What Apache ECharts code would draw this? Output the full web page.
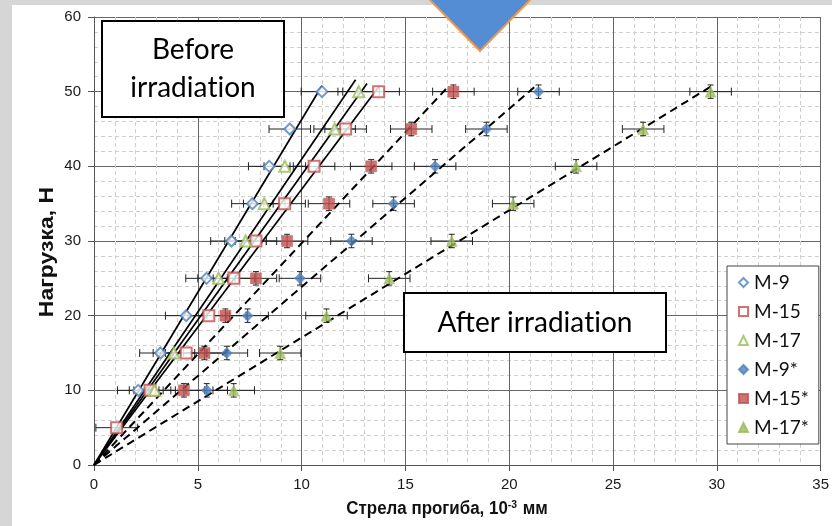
<!DOCTYPE html>
<html>
<head>
<meta charset="utf-8">
<script src="https://cdn.jsdelivr.net/npm/echarts@6/dist/echarts.min.js"></script>
<style>
  html, body { margin: 0; padding: 0; background: #ffffff; }
  #chart { width: 832px; height: 526px; }
</style>
</head>
<body>
<div id="chart"></div>
<script>
// Load levels, N
const loadsM9  = [10, 15, 20, 25, 30, 35, 40, 45, 50];
const loadsM15 = [5, 10, 15, 20, 25, 30, 35, 40, 45, 50];
const loadsM17 = [10, 15, 25, 30, 35, 40, 45, 50];
const loadsIrr = [10, 15, 20, 25, 30, 35, 40, 45, 50];

// Deflection, 10^-3 mm (before irradiation)
const defM9  = [2.13, 3.2, 4.44, 5.42, 6.62, 7.63, 8.44, 9.43, 10.98];
const defM15 = [1.09, 2.7, 4.44, 5.53, 6.74, 7.8, 9.18, 10.6, 12.12, 13.71];
const defM17 = [2.92, 3.85, 6.0, 7.3, 8.2, 9.19, 11.59, 12.75];

// Deflection, 10^-3 mm (after irradiation)
const defM9s  = [5.43, 6.4, 7.4, 9.92, 12.4, 14.43, 16.43, 18.9, 21.41];
const defM15s = [4.33, 5.32, 6.33, 7.8, 9.3, 11.32, 13.35, 15.28, 17.31];
const defM17s = [6.73, 8.97, 11.2, 14.22, 17.23, 20.19, 23.22, 26.45, 29.7];

// Measurement spread (deflection, load)
const errDefl = 1.0;
const errLoad = 0.9;

// Linear fits through the origin: end points [deflection, load]
const fitsBefore = [[10.98, 50.8], [12.6, 51.6], [13.15, 51.1], [13.73, 50.7]];
const fitsAfter  = [[17.07, 50.7], [21.38, 51.0], [29.78, 50.8]];

const xTicks = [0, 5, 10, 15, 20, 25, 30, 35];
const yTicks = [0, 10, 20, 30, 40, 50, 60];

const BLUE = '#4F81BD', RED = '#C0504D', GREEN = '#9BBB59';

const pairs = (xs, ys) => xs.map((x, i) => [x, ys[i]]);

const samples = [
  { name: 'M-9',   xs: defM9,   ys: loadsM9,  color: BLUE,  symbol: 'diamond',  size: 11, hollow: true,  ey: 0 },
  { name: 'M-15',  xs: defM15,  ys: loadsM15, color: RED,   symbol: 'rect',     size: 11, hollow: true,  ey: 0 },
  { name: 'M-17',  xs: defM17,  ys: loadsM17, color: GREEN, symbol: 'triangle', size: 11, hollow: true,  ey: 0 },
  { name: 'M-9*',  xs: defM9s,  ys: loadsIrr, color: BLUE,  symbol: 'diamond',  size: 11, hollow: false, ey: errLoad },
  { name: 'M-15*', xs: defM15s, ys: loadsIrr, color: RED,   symbol: 'rect',     size: 11, hollow: false, ey: errLoad },
  { name: 'M-17*', xs: defM17s, ys: loadsIrr, color: GREEN, symbol: 'triangle', size: 11, hollow: false, ey: errLoad }
];

function errorBarItem(params, api) {
  const x = api.value(0), y = api.value(1), ex = api.value(2), ey = api.value(3);
  const l = api.coord([x - ex, y]);
  const r = api.coord([x + ex, y]);
  const cap = 4;
  const style = { stroke: '#222', lineWidth: 1 };
  const children = [
    { type: 'line', shape: { x1: l[0], y1: l[1], x2: r[0], y2: r[1] }, style },
    { type: 'line', shape: { x1: l[0], y1: l[1] - cap, x2: l[0], y2: l[1] + cap }, style },
    { type: 'line', shape: { x1: r[0], y1: r[1] - cap, x2: r[0], y2: r[1] + cap }, style }
  ];
  if (ey > 0) {
    const t = api.coord([x, y + ey]);
    const b = api.coord([x, y - ey]);
    children.push(
      { type: 'line', shape: { x1: t[0], y1: t[1], x2: b[0], y2: b[1] }, style },
      { type: 'line', shape: { x1: t[0] - 3, y1: t[1], x2: t[0] + 3, y2: t[1] }, style },
      { type: 'line', shape: { x1: b[0] - 3, y1: b[1], x2: b[0] + 3, y2: b[1] }, style }
    );
  }
  return { type: 'group', children };
}

const series = [];

// error bars underneath everything else
samples.forEach(s => {
  series.push({
    type: 'custom',
    name: s.name + ' err',
    renderItem: errorBarItem,
    encode: { x: 0, y: 1 },
    data: s.xs.map((x, i) => [x, s.ys[i], errDefl, s.ey]),
    silent: true,
    z: 2
  });
});

// fitted lines
fitsBefore.forEach((p, i) => {
  series.push({
    type: 'line', name: 'fit-before-' + i, data: [[0, 0], p],
    symbol: 'none', silent: true, z: 3,
    lineStyle: { color: '#000', width: 1.7, type: 'solid' }
  });
});
fitsAfter.forEach((p, i) => {
  series.push({
    type: 'line', name: 'fit-after-' + i, data: [[0, 0], p],
    symbol: 'none', silent: true, z: 3,
    lineStyle: { color: '#000', width: 2, type: [8, 5] }
  });
});

// measured points
samples.forEach(s => {
  series.push({
    type: 'scatter',
    name: s.name,
    data: pairs(s.xs, s.ys),
    symbol: s.symbol,
    symbolSize: s.size,
    z: 4,
    itemStyle: s.hollow
      ? { color: '#ffffff', borderColor: s.color, borderWidth: 2 }
      : { color: s.color, borderColor: s.color, borderWidth: 0.5 }
  });
});

const chart = echarts.init(document.getElementById('chart'), null, { renderer: 'canvas' });

const TOP = 10;   // draw order for the overlay shapes
// the "t" goes in its own run so the font does not join it with the following "i"
const boxFont = { fontFamily: 'Lato', fontSize: 28, fill: '#000' };
const boxRich = { t: Object.assign({}, boxFont) };

chart.setOption({
  animation: false,
  backgroundColor: '#ffffff',
  grid: { left: 94, right: 8, top: 17, bottom: 61, containLabel: false },
  xAxis: {
    type: 'value',
    min: xTicks[0], max: xTicks[xTicks.length - 1], interval: 5,
    axisLine: { show: true, onZero: false, lineStyle: { color: '#555', width: 1 } },
    axisTick: { show: true, length: 6, lineStyle: { color: '#555' } },
    axisLabel: { fontFamily: 'Liberation Sans', fontSize: 15, color: '#1a1a1a', margin: 12 },
    splitLine: { show: true, lineStyle: { color: '#666', width: 1 } },
    minorTick: { show: false, splitNumber: 5 },
    minorSplitLine: { show: true, lineStyle: { color: '#cfcfcf', width: 1, type: [4, 3] } }
  },
  yAxis: {
    type: 'value',
    min: yTicks[0], max: yTicks[yTicks.length - 1], interval: 10,
    axisLine: { show: true, onZero: false, lineStyle: { color: '#555', width: 1 } },
    axisTick: { show: true, length: 6, lineStyle: { color: '#555' } },
    axisLabel: { fontFamily: 'Liberation Sans', fontSize: 15, color: '#1a1a1a', margin: 13 },
    splitLine: { show: true, lineStyle: { color: '#666', width: 1 } },
    minorTick: { show: false, splitNumber: 5 },
    minorSplitLine: { show: true, lineStyle: { color: '#cfcfcf', width: 1, type: [4, 3] } }
  },
  legend: {
    data: samples.map(s => s.name),
    orient: 'vertical',
    left: 727, top: 266,
    padding: [7, 10, 7, 11],
    itemGap: 10,
    itemWidth: 9, itemHeight: 9,
    backgroundColor: '#ffffff',
    borderColor: '#444', borderWidth: 1, borderRadius: 0,
    textStyle: { fontFamily: 'Lato', fontSize: 19, color: '#111', padding: [0, 0, 0, 1] },
    selectedMode: false
  },
  graphic: [
    // slide backdrop around the chart
    { type: 'rect', zlevel: TOP, shape: { x: 0, y: 0, width: 12, height: 526 }, style: { fill: '#d6d6d6' }, silent: true },
    { type: 'rect', zlevel: TOP, shape: { x: 0, y: 0, width: 832, height: 5 }, style: { fill: '#d6d6d6' }, silent: true },
    // callout arrow
    {
      type: 'polygon', zlevel: TOP, z: 2, silent: true,
      shape: { points: [[426, -4], [534, -4], [480, 51]] },
      style: { fill: '#548DD4', stroke: '#F79646', lineWidth: 2 }
    },
    // annotation boxes
    { type: 'rect', zlevel: TOP, z: 1, silent: true,
      shape: { x: 102, y: 21, width: 182, height: 96 }, style: { fill: '#fff', stroke: '#000', lineWidth: 2 } },
    { type: 'text', zlevel: TOP, z: 2, silent: true,
      style: Object.assign({ x: 193, y: 69, text: 'Before\nirradia{t|t}ion', align: 'center', verticalAlign: 'middle',
        lineHeight: 38, rich: { t: Object.assign({ lineHeight: 38 }, boxFont) } }, boxFont) },
    { type: 'rect', zlevel: TOP, z: 1, silent: true,
      shape: { x: 404, y: 293, width: 262, height: 59 }, style: { fill: '#fff', stroke: '#000', lineWidth: 2 } },
    { type: 'text', zlevel: TOP, z: 2, silent: true,
      style: Object.assign({ x: 535, y: 323, text: 'After irradia{t|t}ion', align: 'center', verticalAlign: 'middle',
        rich: boxRich }, boxFont) },
    // axis titles
    { type: 'text', zlevel: TOP, z: 2, silent: true,
      x: 447, y: 509, scaleX: 0.94,
      style: { x: 0, y: 0, text: 'Стрела прогиба, 10{sup|-3} мм', align: 'center', verticalAlign: 'middle',
        fontFamily: 'Liberation Sans', fontWeight: 'bold', fontSize: 18, fill: '#111',
        rich: { sup: { fontFamily: 'Liberation Sans', fontWeight: 'bold', fontSize: 11, fill: '#111', padding: [0, 1, 9, 0] } } } },
    { type: 'text', zlevel: TOP, z: 2, silent: true,
      x: 47, y: 252, rotation: Math.PI / 2, scaleX: 1.15,
      style: { x: 0, y: 0, text: 'Нагрузка, Н', align: 'center', verticalAlign: 'middle',
        fontFamily: 'Liberation Sans', fontWeight: 'bold', fontSize: 20, fill: '#111' } }
  ],
  series
});
</script>
</body>
</html>
